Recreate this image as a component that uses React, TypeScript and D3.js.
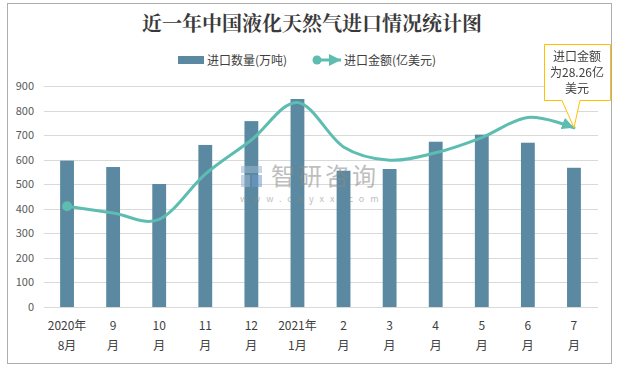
import { useEffect, useRef } from 'react'
import * as d3 from 'd3'

const W = 619
const H = 368
const M = { left: 44, right: 22, top: 86, bottom: 61 }

const CATS_TOP = ['2020年', '9', '10', '11', '12', '2021年', '2', '3', '4', '5', '6', '7']
const CATS_BOTTOM = ['8月', '月', '月', '月', '月', '1月', '月', '月', '月', '月', '月', '月']
const VOLUME = [596, 570, 501, 660, 757, 847, 555, 562, 673, 702, 669, 567]
const AMOUNT = [410, 383, 357, 541, 680, 833, 652, 598, 628, 690, 772, 730]
const Y_TICKS = [0, 100, 200, 300, 400, 500, 600, 700, 800, 900]

const BAR_COLOR = '#5A89A1'
const LINE_COLOR = '#5DBDB1'
const FONT = '"Noto Sans CJK SC", "Noto Sans", sans-serif'

export default function App() {
  const svgRef = useRef<SVGSVGElement | null>(null)

  useEffect(() => {
    if (!svgRef.current) return
    const svg = d3.select(svgRef.current)
    svg.selectAll('*').remove()

    const x = d3.scaleBand<number>()
      .domain(d3.range(CATS_TOP.length))
      .range([M.left, W - M.right])
      .paddingInner(0.7)
      .paddingOuter(0.35)
    const xc = (i: number) => (x(i) as number) + x.bandwidth() / 2
    const y = d3.scaleLinear().domain([0, 900]).range([H - M.bottom, M.top])

    // marker defs
    const defs = svg.append('defs')
    defs.append('marker')
      .attr('id', 'arrow')
      .attr('markerUnits', 'userSpaceOnUse')
      .attr('markerWidth', 14).attr('markerHeight', 12)
      .attr('refX', 12).attr('refY', 6)
      .attr('orient', 'auto')
      .append('path')
      .attr('d', 'M0,0 L12,6 L0,12 Z')
      .attr('fill', LINE_COLOR)

    // ── frame ──
    svg.append('rect')
      .attr('x', 7.5).attr('y', 3.5)
      .attr('width', 604).attr('height', 360)
      .attr('fill', 'white')
      .attr('stroke', '#ADADAD')

    // ── title ──
    svg.append('text')
      .attr('x', 312).attr('y', 31)
      .attr('text-anchor', 'middle')
      .attr('font-family', '"Noto Serif CJK SC", "Noto Sans CJK SC", serif')
      .attr('font-weight', 'bold')
      .attr('font-size', 20)
      .attr('fill', '#3A3A3A')
      .text('近一年中国液化天然气进口情况统计图')

    // ── legend ──
    const lg = svg.append('g').attr('font-family', FONT).attr('font-size', 12).attr('fill', '#404040')
    lg.append('rect').attr('x', 178).attr('y', 56).attr('width', 26).attr('height', 8).attr('fill', BAR_COLOR)
    lg.append('text').attr('x', 207).attr('y', 64.5).text('进口数量(万吨)')
    lg.append('line')
      .attr('x1', 317).attr('y1', 60).attr('x2', 341).attr('y2', 60)
      .attr('stroke', LINE_COLOR).attr('stroke-width', 3)
      .attr('marker-end', 'url(#arrow)')
    lg.append('circle').attr('cx', 317).attr('cy', 60).attr('r', 4.5).attr('fill', LINE_COLOR)
    lg.append('text').attr('x', 344).attr('y', 64.5).text('进口金额(亿美元)')

    // ── grid + y labels ──
    const grid = svg.append('g')
    Y_TICKS.forEach((t) => {
      grid.append('line')
        .attr('x1', M.left).attr('x2', W - M.right + 1)
        .attr('y1', Math.round(y(t)) + 0.5).attr('y2', Math.round(y(t)) + 0.5)
        .attr('stroke', '#D9D9D9')
      grid.append('text')
        .attr('x', 34).attr('y', y(t) + 4)
        .attr('text-anchor', 'end')
        .attr('font-family', FONT)
        .attr('font-size', 11)
        .attr('fill', '#595959')
        .text(t)
    })

    // ── x labels ──
    const xl = svg.append('g').attr('font-family', FONT).attr('font-size', 12).attr('fill', '#404040').attr('text-anchor', 'middle')
    CATS_TOP.forEach((c, i) => {
      xl.append('text').attr('x', xc(i)).attr('y', 330).text(c)
      xl.append('text').attr('x', xc(i)).attr('y', 350).text(CATS_BOTTOM[i])
    })

    // ── bars ──
    svg.append('g').selectAll('rect').data(VOLUME).join('rect')
      .attr('x', (_, i) => x(i) as number)
      .attr('width', x.bandwidth())
      .attr('y', (d) => y(d))
      .attr('height', (d) => y(0) - y(d))
      .attr('fill', BAR_COLOR)

    // ── smoothed line ──
    const lineGen = d3.line<number>()
      .x((_, i) => xc(i))
      .y((d) => y(d))
      .curve(d3.curveCatmullRom.alpha(0))
    svg.append('path')
      .datum(AMOUNT)
      .attr('d', lineGen)
      .attr('fill', 'none')
      .attr('stroke', LINE_COLOR)
      .attr('stroke-width', 3)
      .attr('stroke-linecap', 'round')
      .attr('marker-end', 'url(#arrow)')
    svg.append('circle')
      .attr('cx', xc(0)).attr('cy', y(AMOUNT[0]))
      .attr('r', 5)
      .attr('fill', LINE_COLOR)

    // ── watermark ──
    const wm = svg.append('g').attr('opacity', 0.55)
    wm.append('rect').attr('x', 241).attr('y', 166).attr('width', 21).attr('height', 7).attr('fill', '#9DB6D3')
    wm.append('rect').attr('x', 241).attr('y', 175).attr('width', 9).attr('height', 12).attr('fill', '#9DB6D3')
    wm.append('rect').attr('x', 252).attr('y', 175).attr('width', 10).attr('height', 12).attr('fill', '#6F9ACB')
    wm.append('text')
      .attr('x', 271).attr('y', 185)
      .attr('font-family', FONT).attr('font-size', 24)
      .attr('fill', '#8A8A8A')
      .attr('letter-spacing', 3)
      .text('智研咨询')
    wm.append('text')
      .attr('x', 240).attr('y', 202)
      .attr('font-family', FONT).attr('font-size', 9)
      .attr('fill', '#8A8A8A')
      .attr('letter-spacing', 5.9)
      .text('www.chyxx.com')

    // ── callout ──
    const tipX = xc(AMOUNT.length - 1)
    const tipY = y(AMOUNT[AMOUNT.length - 1])
    const co = svg.append('g')
    co.append('path')
      .attr('d', `M544.5,44.5 H610.5 V100.5 H580 L${tipX},${tipY} L562,100.5 H544.5 Z`)
      .attr('fill', 'white')
      .attr('stroke', '#FFC000')
      .attr('stroke-width', 1)
    const ct = co.append('g').attr('font-family', FONT).attr('font-size', 12).attr('fill', '#404040').attr('text-anchor', 'middle')
    ;['进口金额', '为28.26亿', '美元'].forEach((s, i) => {
      ct.append('text').attr('x', 577).attr('y', 61 + i * 16).text(s)
    })
  }, [])

  return (
    <div style={{ position: 'fixed', left: 0, top: 0 }}>
      <svg ref={svgRef} width={W} height={H} style={{ display: 'block' }} />
    </div>
  )
}
